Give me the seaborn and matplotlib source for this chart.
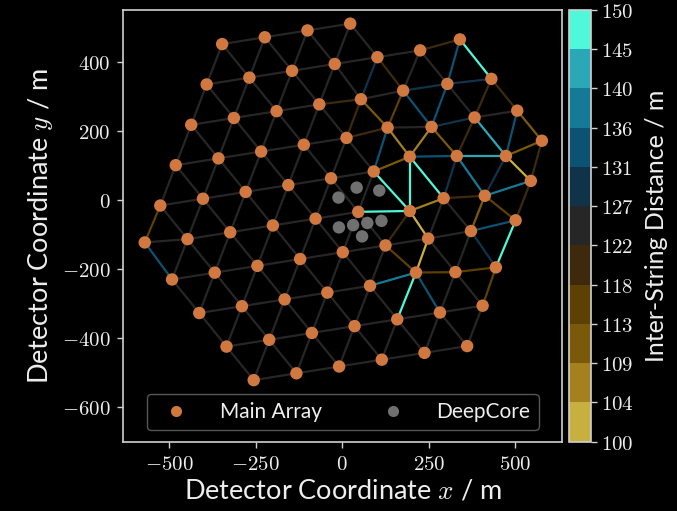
import numpy as np
import matplotlib
matplotlib.use("Agg")
import matplotlib.pyplot as plt
import seaborn as sns
import matplotlib.tri as mtri
from matplotlib.collections import LineCollection
from matplotlib.colors import ListedColormap, BoundaryNorm
from matplotlib.cm import ScalarMappable
from matplotlib.lines import Line2D
from matplotlib.ticker import FuncFormatter

# ---------------- data ----------------
main_x = [-256.0, -132.6, -9.2, 114.2, 237.6, 361.0,
          -334.7, -211.3, -87.9, 35.5, 158.9, 282.3, 405.7,
          -413.4, -290.0, -166.6, -43.2, 80.2, 213.0, 327.0, 444.0,
          -492.1, -368.7, -245.3, -121.9, 1.5, 124.9, 248.3, 372.0, 501.0,
          -571.0, -447.4, -324.0, -200.6, -77.2, 46.2, 195.0, 293.0, 412.0, 545.0,
          -526.1, -402.7, -279.3, -155.9, -32.5, 90.9, 195.0, 331.0, 473.0, 577.0,
          -481.4, -358.0, -234.6, -111.2, 12.2, 131.0, 258.0, 382.4, 505.8,
          -436.7, -313.3, -189.9, -66.5, 54.0, 176.0, 303.7, 431.0,
          -392.0, -268.6, -145.2, -21.8, 101.6, 225.0, 340.0,
          -347.3, -223.9, -100.5, 22.9]
main_y = [-521.0, -501.3, -481.6, -461.9, -442.2, -422.5,
          -424.0, -404.3, -384.6, -364.9, -345.2, -325.5, -305.8,
          -327.0, -307.3, -287.6, -267.9, -248.2, -210.0, -208.8, -195.0,
          -230.0, -210.3, -190.6, -170.9, -151.2, -131.5, -111.8, -90.0, -59.0,
          -123.0, -113.3, -93.6, -73.9, -54.2, -34.5, -32.0, 4.9, 12.0, 55.0,
          -16.3, 3.4, 23.1, 42.8, 62.5, 82.2, 125.0, 127.0, 127.0, 171.0,
          100.4, 120.1, 139.8, 159.5, 179.2, 209.0, 211.0, 238.3, 258.0,
          217.1, 236.8, 256.5, 276.2, 291.0, 316.0, 335.3, 350.0,
          333.8, 353.5, 373.2, 392.9, 412.6, 432.3, 464.0,
          450.5, 470.2, 489.9, 509.6]
deepcore_x = [-11.0, 41.6, 106.9, -9.7, 31.3, 72.4, 113.2, 57.2]
deepcore_y = [6.7, 35.5, 27.1, -79.5, -72.9, -66.6, -60.5, -105.5]

cbar_levels = np.linspace(100, 150, 12)
band_colors = ["#c8b040", "#a4801e", "#7a5a0a", "#5c4004", "#3d2a0c",
               "#262626", "#0f3348", "#0c5272", "#157a96", "#2aa8b8", "#4ff8d8"]
x_ticks = [-500, -250, 0, 250, 500]
y_ticks = [-600, -400, -200, 0, 200, 400]

# ---------------- style ----------------
sns.set_theme(style="ticks")
fg = "#eeeeee"
plt.rcParams.update({
    "figure.facecolor": "black", "axes.facecolor": "black",
    "savefig.facecolor": "black",
    "axes.edgecolor": "#d0d0d0", "axes.labelcolor": fg, "text.color": fg,
    "xtick.color": "#d0d0d0", "ytick.color": "#d0d0d0",
    "xtick.labelcolor": fg, "ytick.labelcolor": fg,
    "mathtext.fontset": "cm",
})
plt.rcParams["font.family"] = ["Lato", "DejaVu Sans"]

fig = plt.figure(figsize=(6.77, 5.11), dpi=100)
ax = fig.add_axes([123.3 / 677, 69.3 / 511, 439 / 677, 431.7 / 511])

cmap = ListedColormap(band_colors)
norm = BoundaryNorm(cbar_levels, cmap.N, clip=True)

# edges between neighbouring strings (Delaunay triangulation)
mx = np.asarray(main_x, float)
my = np.asarray(main_y, float)
tri = mtri.Triangulation(mx, my)
e = tri.edges
d = np.hypot(mx[e[:, 0]] - mx[e[:, 1]], my[e[:, 0]] - my[e[:, 1]])
keep = d < 175
e, d = e[keep], d[keep]
order = np.argsort(np.abs(d - 125))
e, d = e[order], d[order]
segs = [[(mx[a], my[a]), (mx[b], my[b])] for a, b in e]
lc = LineCollection(segs, cmap=cmap, norm=norm, linewidths=1.6, zorder=1)
lc.set_array(d)
ax.add_collection(lc)

orange = "#d0783f"
grey = "#707070"
sns.scatterplot(x=main_x, y=main_y, color=orange, s=80, edgecolor="none",
                zorder=3, ax=ax, legend=False)
sns.scatterplot(x=deepcore_x, y=deepcore_y, color=grey, s=80, edgecolor="none",
                zorder=3, ax=ax, legend=False)

ax.set_xlim(-633, 636)
ax.set_ylim(-699, 549)
ax.set_xticks(x_ticks)
ax.set_yticks(y_ticks)
fmt = FuncFormatter(lambda v, p: f"${v:.0f}$")
ax.xaxis.set_major_formatter(fmt)
ax.yaxis.set_major_formatter(fmt)
ax.tick_params(labelsize=15, length=4, width=1, direction="out", pad=5)
for s in ax.spines.values():
    s.set_linewidth(1.2)
ax.set_xlabel("Detector Coordinate $x$ / m", fontsize=19.5, labelpad=3)
ax.set_ylabel("Detector Coordinate $y$ / m", fontsize=19.5, labelpad=5)

handles = [Line2D([], [], ls="none", marker="o", ms=8, mfc=orange, mec="none"),
           Line2D([], [], ls="none", marker="o", ms=8, mfc=grey, mec="none")]
leg = ax.legend(handles, ["Main Array", "DeepCore"], loc="lower center", ncol=2,
                fontsize=15, handletextpad=1.1, columnspacing=2.4,
                frameon=True, facecolor="black", edgecolor="#555555",
                framealpha=1, borderaxespad=0.55)
for t in leg.get_texts():
    t.set_color(fg)

cax = fig.add_axes([569 / 677, 69.3 / 511, 22 / 677, 431.7 / 511])
sm = ScalarMappable(norm=norm, cmap=cmap)
cb = fig.colorbar(sm, cax=cax, ticks=cbar_levels)
cb.ax.yaxis.set_major_formatter(FuncFormatter(lambda v, p: f"${int(v + 1e-6)}$"))
cb.ax.tick_params(labelsize=15, length=4, width=1, color="#d0d0d0")
cb.outline.set_edgecolor("#d0d0d0")
cb.outline.set_linewidth(1.2)
cb.set_label("Inter-String Distance / m", fontsize=18, labelpad=8)

fig.savefig("out.png", dpi=100)
